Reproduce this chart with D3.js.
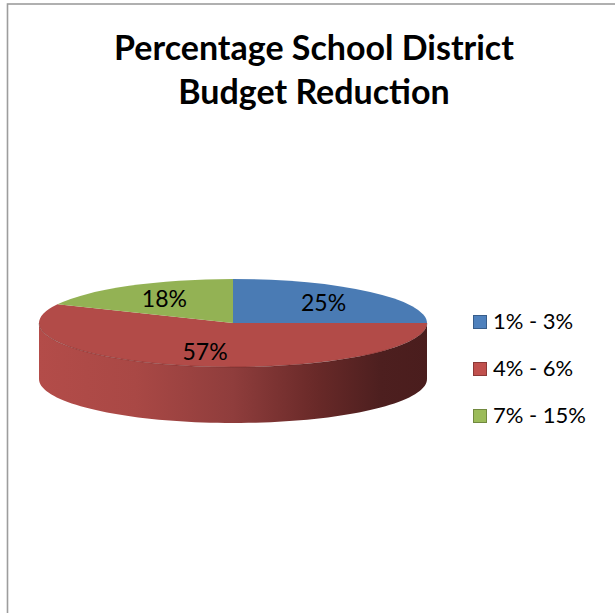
<!DOCTYPE html>
<html>
<head>
<meta charset="utf-8">
<script src="https://cdn.jsdelivr.net/npm/d3@7"></script>
<style>
  body { margin: 0; background: #fff; }
  text { font-family: Lato, "Open Sans", sans-serif; }
</style>
</head>
<body>
<script>
// data
var categories = ["1% - 3%", "4% - 6%", "7% - 15%"];
var values = [25, 57, 18];
var titleLines = ["Percentage School District", "Budget Reduction"];

// colours (top face / legend)
var topColors = ["#4a7bb4", "#b24b48", "#93b254"];
var legendFill = ["#4f81bd", "#c0504d", "#9bbb59"];
var legendStroke = ["#385d8a", "#8c3836", "#71893f"];

// basic setup
var w = 615, h = 613;
var cx = 233, cy = 323;   // pie centre
var rx = 194, ry = 44;    // top ellipse radii
var depth = 56;           // side thickness

var svg = d3.select("body").append("svg")
  .attr("width", w)
  .attr("height", h);

// chart border (left and top only visible)
svg.append("rect")
  .attr("x", 7.5).attr("y", 4)
  .attr("width", w).attr("height", h)
  .attr("fill", "none")
  .attr("stroke", "#9d9d9d")
  .attr("stroke-width", 1.6);

// title
svg.append("text")
  .attr("x", 314)
  .attr("y", 60)
  .attr("text-anchor", "middle")
  .attr("font-weight", "bold")
  .attr("font-size", "34px")
  .attr("fill", "#000")
  .selectAll("tspan")
  .data(titleLines)
  .enter()
  .append("tspan")
  .attr("x", 314)
  .attr("dy", function(d, i) { return i === 0 ? 0 : 44; })
  .text(function(d) { return d; });

var pie = d3.pie().sort(null).startAngle(0).endAngle(2 * Math.PI);
var arcs = pie(values);

// point on ellipse for d3 angle (0 = top, clockwise)
function ept(a, dy) {
  return [cx + rx * Math.sin(a), cy + dy - ry * Math.cos(a)];
}

// side gradient
var defs = svg.append("defs");
var grad = defs.append("linearGradient")
  .attr("id", "sidegrad")
  .attr("gradientUnits", "userSpaceOnUse")
  .attr("x1", cx - rx).attr("x2", cx + rx)
  .attr("y1", 0).attr("y2", 0);
[[0, "#b34c49"], [0.25, "#a94845"], [0.5, "#8f3d3c"], [0.72, "#682928"], [0.88, "#4d1f1f"], [1, "#4a1d1d"]]
  .forEach(function(s) {
    grad.append("stop").attr("offset", s[0]).attr("stop-color", s[1]);
  });

// sides (only the front half is visible)
var line = d3.line();
arcs.forEach(function(d) {
  var s = Math.max(d.startAngle, Math.PI / 2);
  var e = Math.min(d.endAngle, 3 * Math.PI / 2);
  if (e <= s) return;
  var pts = [];
  var n = 80;
  for (var i = 0; i <= n; i++) pts.push(ept(s + (e - s) * i / n, 0));
  for (var j = n; j >= 0; j--) pts.push(ept(s + (e - s) * j / n, depth));
  svg.append("path")
    .attr("d", line(pts) + "Z")
    .attr("fill", "url(#sidegrad)");
});

// top face
var arc = d3.arc().innerRadius(0).outerRadius(rx);
var topG = svg.append("g")
  .attr("transform", "translate(" + cx + "," + cy + ") scale(1," + (ry / rx) + ")");
topG.selectAll("path")
  .data(arcs)
  .enter()
  .append("path")
  .attr("d", arc)
  .attr("fill", function(d, i) { return topColors[i]; });

// faint rim between top and side
var rim = [];
for (var k = 0; k <= 80; k++) rim.push(ept(Math.PI / 2 + Math.PI * k / 80, 0));
svg.append("path")
  .attr("d", line(rim))
  .attr("fill", "none")
  .attr("stroke", "rgba(60,10,10,0.25)")
  .attr("stroke-width", 1);

// data labels
var labelArc = d3.arc().innerRadius(rx * 0.66).outerRadius(rx * 0.66);
svg.selectAll(".lbl")
  .data(arcs)
  .enter()
  .append("text")
  .attr("class", "lbl")
  .attr("x", function(d) { return cx + labelArc.centroid(d)[0]; })
  .attr("y", function(d) { return cy + labelArc.centroid(d)[1] * ry / rx; })
  .attr("dy", "0.36em")
  .attr("text-anchor", "middle")
  .attr("font-size", "23px")
  .attr("fill", "#000")
  .text(function(d) { return d.value + "%"; });

// legend
var legend = svg.selectAll(".leg")
  .data(categories)
  .enter()
  .append("g")
  .attr("class", "leg")
  .attr("transform", function(d, i) { return "translate(473," + (315 + i * 47) + ")"; });
legend.append("rect")
  .attr("x", 0.5).attr("y", 0.5)
  .attr("width", 13).attr("height", 13)
  .attr("fill", function(d, i) { return legendFill[i]; })
  .attr("stroke", function(d, i) { return legendStroke[i]; })
  .attr("stroke-width", 1);
legend.append("text")
  .attr("x", 20)
  .attr("y", 13.5)
  .attr("font-size", "22px")
  .attr("fill", "#000")
  .text(function(d) { return d; });
</script>
</body>
</html>
